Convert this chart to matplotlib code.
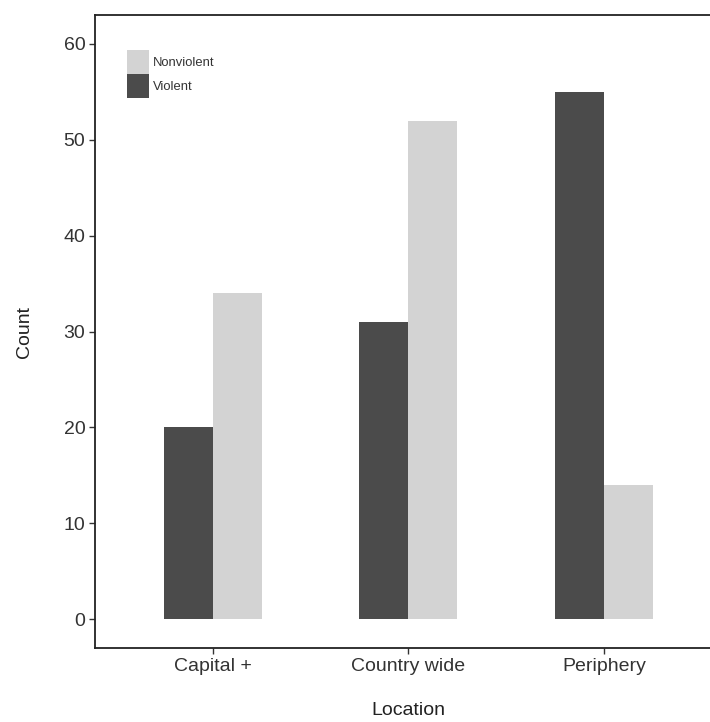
import matplotlib
matplotlib.use("Agg")
import matplotlib.pyplot as plt
import numpy as np
from matplotlib.patches import Patch

plt.rcParams['font.family'] = ['Liberation Sans', 'DejaVu Sans']

locations = ["Capital +", "Country wide", "Periphery"]
violent = [20, 31, 55]
nonviolent = [34, 52, 14]
yticks = [0, 10, 20, 30, 40, 50, 60]

dark = "#4b4b4b"
light = "#d3d3d3"

fig = plt.figure(figsize=(7.10, 7.22), dpi=100)
# axes run slightly past the right edge, like the cropped original
ax = fig.add_axes([0.1338, 0.1025, 0.883, 0.8767])

x = np.arange(1, len(locations) + 1)
w = 0.25
ax.bar(x - w / 2, violent, width=w, color=dark, linewidth=0)
ax.bar(x + w / 2, nonviolent, width=w, color=light, linewidth=0)

ax.set_xlim(0.4, 3.6)
ax.set_ylim(-3, 63)
ax.set_xticks(x)
ax.set_xticklabels(locations)
ax.set_yticks(yticks)

for s in ["left", "bottom", "top", "right"]:
    ax.spines[s].set_color("#222222")
    ax.spines[s].set_linewidth(1.3)

ax.tick_params(axis="both", labelsize=14, labelcolor="#333333",
               color="#333333", length=4, width=1, pad=3)

ax.set_xlabel("Location", fontsize=14, color="#222222")
ax.set_ylabel("Count", fontsize=14, color="#222222")
ax.xaxis.set_label_coords(0.5, -0.099)
ax.xaxis.label.set_va("center")
ax.yaxis.set_label_coords(-0.112, 0.5)
ax.yaxis.label.set_va("center")

handles = [Patch(facecolor=light, edgecolor="none", label="Nonviolent"),
           Patch(facecolor=dark, edgecolor="none", label="Violent")]
leg = ax.legend(handles=handles, loc="upper left",
                bbox_to_anchor=(0.051, 0.945), frameon=False,
                fontsize=9.4, handlelength=1.7, handleheight=2.45,
                labelspacing=0, handletextpad=0.3, borderaxespad=0,
                borderpad=0)
for t in leg.get_texts():
    t.set_color("#333333")

fig.savefig("out.png", dpi=100)
